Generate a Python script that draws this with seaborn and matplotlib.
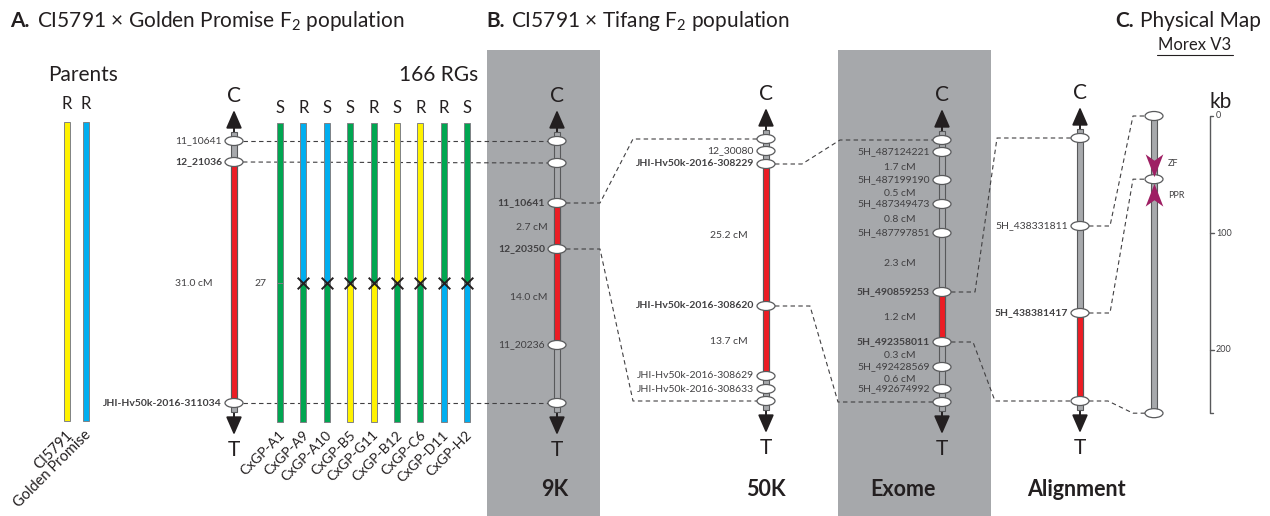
import matplotlib
matplotlib.use("Agg")
import matplotlib.pyplot as plt
import seaborn as sns
from matplotlib.patches import Ellipse, Rectangle
from matplotlib.path import Path

sns.set_style("white")
plt.rcParams['font.family'] = ['Lato', 'DejaVu Sans']
plt.rcParams['mathtext.fontset'] = 'custom'
plt.rcParams['mathtext.rm'] = 'Lato'
plt.rcParams['mathtext.bf'] = 'Lato:bold'
plt.rcParams['mathtext.default'] = 'rm'

YEL = '#fff200'
BLU = '#00aeef'
GRN = '#00a651'
RED = '#ed1c24'
GRY = '#a7a9ac'
DARK = '#58595b'
TXT = '#231f20'
LAB = '#414042'
MAG = '#9e1f63'
colmap = {'Y': YEL, 'B': BLU, 'G': GRN}

# ---- panel A data ----
parent_names = ['CI5791', 'Golden Promise']
parent_pheno = ['R', 'R']
parent_col = ['Y', 'B']

rg_names = ['CxGP-A1', 'CxGP-A9', 'CxGP-A10', 'CxGP-B5', 'CxGP-G11',
            'CxGP-B12', 'CxGP-C6', 'CxGP-D11', 'CxGP-H2']
rg_pheno = ['S', 'R', 'S', 'S', 'R', 'S', 'R', 'R', 'S']
rg_upper = ['G', 'B', 'B', 'G', 'G', 'Y', 'Y', 'G', 'G']
rg_lower = ['G', 'G', 'G', 'Y', 'Y', 'G', 'G', 'B', 'B']
rg_cross = [False, True, True, True, True, True, True, True, True]

# map positions (drawing units along the chromosome)
a_pos = [141, 162, 403]
a_lab = ['11_10641', '12_21036', 'JHI-Hv50k-2016-311034']
a_bold = [0, 1, 1]
a_red = (1, 2)
a_cm = [(1, 2, '31.0 cM')]

k9_pos = [141, 163, 203, 249, 345, 403]
k9_lab = ['', '', '11_10641', '12_20350', '11_20236', '']
k9_bold = [0, 0, 1, 1, 0, 0]
k9_red = (2, 4)
k9_cm = [(2, 3, '2.7 cM'), (3, 4, '14.0 cM')]

k50_pos = [139, 151, 164, 306, 376, 389, 401]
k50_lab = ['', '12_30080', 'JHI-Hv50k-2016-308229', 'JHI-Hv50k-2016-308620',
           'JHI-Hv50k-2016-308629', 'JHI-Hv50k-2016-308633', '']
k50_bold = [0, 0, 1, 1, 0, 0, 0]
k50_red = (2, 4)
k50_cm = [(2, 3, '25.2 cM'), (3, 4, '13.7 cM')]

ex_pos = [140, 152, 180, 204, 233, 292, 342, 367, 389, 402]
ex_lab = ['', '5H_487124221', '5H_487199190', '5H_487349473', '5H_487797851',
          '5H_490859253', '5H_492358011', '5H_492428569', '5H_492674992', '']
ex_bold = [0, 0, 0, 0, 0, 1, 1, 0, 0, 0]
ex_red = (5, 6)
ex_cm = [(1, 2, '1.7 cM'), (2, 3, '0.5 cM'), (3, 4, '0.8 cM'), (4, 5, '2.3 cM'),
         (5, 6, '1.2 cM'), (6, 7, '0.3 cM'), (7, 8, '0.6 cM')]

al_pos = [138, 226, 313, 401]
al_lab = ['', '5H_438331811', '5H_438381417', '']
al_bold = [0, 0, 1, 0]
al_red = (2, 3)

# physical map (kb)
phys_kb = [0, 54, 254]
kb_ticks = [0, 100, 200]
genes = ['ZF', 'PPR']
gene_kb = [41, 68]

fig = plt.figure(figsize=(12.7, 5.16), dpi=100)
ax = fig.add_axes([0, 0, 1, 1])
ax.set_xlim(0, 1270)
ax.set_ylim(516, 0)
ax.axis('off')

# grey panel backgrounds
for x0, x1 in [(487, 600), (838, 991)]:
    ax.add_patch(Rectangle((x0, 50), x1 - x0, 470, fc='#a6a8ab', ec='none', zorder=0))


def dash(xs, ys):
    ax.plot(xs, ys, color=LAB, lw=0.8, dashes=(4, 3), zorder=1)


def chrom(x, pos, labs, bold, red, cm=(), cm_x=None, cm_ha='right', lab_dx=-12):
    top, bot = pos[0] - 9, pos[-1] + 9
    ax.bar(x, bot - top, bottom=top, width=6, color=GRY, edgecolor=DARK, lw=0.8, zorder=3)
    r0, r1 = pos[red[0]], pos[red[1]]
    ax.bar(x, r1 - r0, bottom=r0, width=6, color=RED, edgecolor=DARK, lw=0.8, zorder=4)
    for y, lab, b in zip(pos, labs, bold):
        ax.add_patch(Ellipse((x, y), 18, 9, fc='white', ec=DARK, lw=0.9, zorder=5))
        if lab:
            ax.text(x + lab_dx, y, lab, ha='right', va='center', fontsize=7.5,
                    weight='bold' if b else 'normal', color=LAB)
    for i, j, t in cm:
        ax.text(cm_x, (pos[i] + pos[j]) / 2 + 1, t, ha=cm_ha, va='center',
                fontsize=7.5, color=LAB)
    aprops = dict(arrowstyle='-|>,head_length=0.55,head_width=0.24', color=TXT,
                  lw=1.4, shrinkA=0, shrinkB=0, mutation_scale=20)
    ax.annotate('', xy=(x, top - 22), xytext=(x, top), arrowprops=aprops, zorder=2)
    ax.text(x, top - 36, 'C', ha='center', va='center', fontsize=15, color=TXT)
    ax.annotate('', xy=(x, bot + 23), xytext=(x, bot), arrowprops=aprops, zorder=2)
    ax.text(x, bot + 38, 'T', ha='center', va='center', fontsize=15, color=TXT)


# ---- titles ----
ax.text(10, 21, 'A.', fontsize=15, weight='bold', va='center', color=TXT)
ax.text(37, 21, 'CI5791 × Golden Promise F$_2$ population', fontsize=15, va='center', color=TXT)
ax.text(486, 21, 'B.', fontsize=15, weight='bold', va='center', color=TXT)
ax.text(511, 21, 'CI5791 × Tifang F$_2$ population', fontsize=15, va='center', color=TXT)
ax.text(1115, 21, 'C.', fontsize=15, weight='bold', va='center', color=TXT)
ax.text(1140, 21, 'Physical Map', fontsize=15, va='center', color=TXT)
ax.text(1195, 45, 'Morex V3', fontsize=12, ha='center', va='center', color=TXT)
ax.plot([1157, 1233], [55, 55], color=TXT, lw=0.8)

# ---- parents ----
ax.text(83, 75, 'Parents', fontsize=15, ha='center', va='center', color=TXT)
for i, (nm, ph, c) in enumerate(zip(parent_names, parent_pheno, parent_col)):
    px = 67 + 18.5 * i
    ax.bar(px, 299, bottom=122, width=6, color=colmap[c], edgecolor='#808285', lw=0.7, zorder=3)
    ax.text(px, 104, ph, fontsize=12, ha='center', va='center', color=TXT)
    ax.text(px + 3, 433, nm, fontsize=10.5, rotation=45, rotation_mode='anchor',
            ha='right', va='center', color=TXT)

# ---- recombinant groups ----
ax.text(439, 75, '166 RGs', fontsize=15, ha='center', va='center', color=TXT)
cross_y = 283
cx, cyy = [], []
for i, nm in enumerate(rg_names):
    gx = 280 + 23.4 * i
    ax.bar(gx, cross_y - 123, bottom=123, width=6, color=colmap[rg_upper[i]],
           edgecolor='#808285', lw=0.7, zorder=3)
    ax.bar(gx, 422 - cross_y, bottom=cross_y, width=6, color=colmap[rg_lower[i]],
           edgecolor='#808285', lw=0.7, zorder=3)
    ax.text(gx, 108, rg_pheno[i], fontsize=12, ha='center', va='center', color=TXT)
    ax.text(gx + 3, 433, nm, fontsize=10, rotation=45, rotation_mode='anchor',
            ha='right', va='center', color=TXT)
    if rg_cross[i]:
        cx.append(gx)
        cyy.append(cross_y)
sns.scatterplot(x=cx, y=cyy, marker='x', s=70, color=TXT, linewidth=1.4, ax=ax, zorder=6)
ax.text(260, cross_y, '27', fontsize=7.5, ha='center', va='center', color=LAB)

# ---- chromosomes ----
XA, X9, X50, XE, XL, XP = 234, 557, 766, 942, 1080, 1154
chrom(XA, a_pos, a_lab, a_bold, a_red, a_cm, cm_x=213)
chrom(X9, k9_pos, k9_lab, k9_bold, k9_red, k9_cm, cm_x=548)
chrom(X50, k50_pos, k50_lab, k50_bold, k50_red, k50_cm, cm_x=748)
chrom(XE, ex_pos, ex_lab, ex_bold, ex_red, ex_cm, cm_x=900, cm_ha='center')
chrom(XL, al_pos, al_lab, al_bold, al_red)

# connectors A -> 9K
for ya, yk in zip(a_pos, [k9_pos[0], k9_pos[1], k9_pos[-1]]):
    dash([XA + 9, X9 - 9], [ya, yk])
# 9K -> 50K
dash([X9 + 9, 600, 633, X50 - 9], [k9_pos[2], k9_pos[2], k50_pos[0], k50_pos[0]])
dash([X9 + 9, 600, 633, X50 - 9], [k9_pos[3], k9_pos[3], k50_pos[-1], k50_pos[-1]])
# 50K -> Exome
dash([X50 + 9, 802, 840, XE - 9], [k50_pos[2], k50_pos[2], ex_pos[0], ex_pos[0]])
dash([X50 + 9, 810, 838, XE - 9], [k50_pos[3], k50_pos[3], ex_pos[-1], ex_pos[-1]])
# Exome -> Alignment
dash([XE + 9, 975, 997, XL - 9], [ex_pos[5], ex_pos[5], al_pos[0], al_pos[0]])
dash([XE + 9, 973, 995, XL - 9], [ex_pos[6], ex_pos[6], al_pos[-1], al_pos[-1]])

# ---- physical map ----
kb0, kbs = 116, 1.17
py = [kb0 + k * kbs for k in phys_kb]
ax.bar(XP, py[-1] - py[0], bottom=py[0], width=6, color=GRY, edgecolor=DARK, lw=0.8, zorder=3)
for y in py:
    ax.add_patch(Ellipse((XP, y), 18, 9, fc='white', ec=DARK, lw=0.9, zorder=5))
dash([XL + 9, 1110, 1133, XP - 9], [al_pos[1], al_pos[1], py[0], py[0]])
dash([XL + 9, 1110, 1133, XP - 9], [al_pos[2], al_pos[2], py[1], py[1]])
dash([XL + 9, 1108, 1133, XP - 9], [al_pos[3], al_pos[3], py[2], py[2]])

head_down = Path([(0, -1), (-0.7, 0.8), (0, 0.3), (0.7, 0.8), (0, -1)],
                 [Path.MOVETO, Path.LINETO, Path.LINETO, Path.LINETO, Path.CLOSEPOLY])
head_up = Path([(0, 1), (-0.7, -0.8), (0, -0.3), (0.7, -0.8), (0, 1)],
               [Path.MOVETO, Path.LINETO, Path.LINETO, Path.LINETO, Path.CLOSEPOLY])
for g, k, m in zip(genes, gene_kb, [head_down, head_up]):
    gy = kb0 + k * kbs
    ax.scatter([XP], [gy], marker=m, s=330, color=MAG, zorder=6, linewidths=0)
    ax.text(XP + 14, gy, g, fontsize=6.5, ha='left', va='center', color=LAB)

# kb scale
ax.plot([1213, 1210, 1210, 1213], [py[0], py[0], py[-1], py[-1]], color=DARK, lw=1)
for k in kb_ticks:
    ty = kb0 + k * kbs
    if k > 0:
        ax.plot([1210, 1214], [ty, ty], color=DARK, lw=1)
    ax.text(1216, ty, str(k), fontsize=6.5, ha='left', va='center', color=LAB)
ax.text(1221, 102, 'kb', fontsize=15, ha='center', va='center', color=TXT)

# ---- bottom labels ----
for x, t in [(555, '9K'), (766, '50K'), (903, 'Exome'), (1076, 'Alignment')]:
    ax.text(x, 490, t, fontsize=15.5, weight='bold', ha='center', va='center', color=TXT)

fig.savefig('out.png', dpi=100)
plt.close(fig)
